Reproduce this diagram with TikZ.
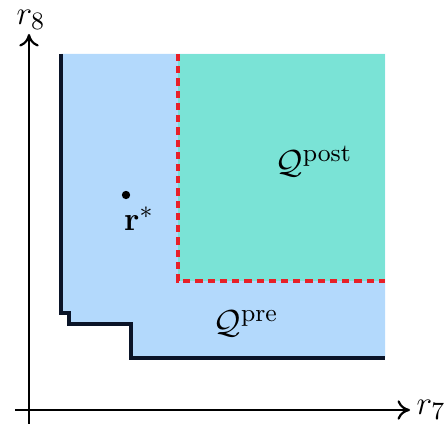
\documentclass[tikz,border=0pt]{standalone}
\usepackage{amsmath,amssymb}
\usetikzlibrary{arrows.meta}
\definecolor{preblue}{RGB}{179,217,252}
\definecolor{postgreen}{RGB}{122,227,214}
\definecolor{dashred}{RGB}{232,32,40}
\definecolor{edgeblue}{RGB}{10,20,40}
\tikzset{
  axis/.style={line width=0.8pt,-{To[length=4.5pt,width=7pt]}},
  stair/.style={line width=1.1pt,edgeblue,line join=miter},
  bound/.style={line width=1.1pt,dashred,dash pattern=on 2.6pt off 1.8pt},
  lbl/.style={inner sep=0pt,font=\fontsize{13}{15}\selectfont}
}
\begin{document}
\begin{tikzpicture}[x=0.36pt,y=-0.36pt]
\useasboundingbox (0,0) rectangle (445,428);
% regions
\fill[preblue] (61,54) -- (385,54) -- (385,358) -- (131,358) -- (131,324) -- (69,324) -- (69,313) -- (61,313) -- cycle;
\fill[postgreen] (178,54) rectangle (385,281);
% staircase boundary
\draw[stair] (61,54) -- (61,313) -- (69,313) -- (69,324) -- (131,324) -- (131,358) -- (385,358);
% dashed boundary
\draw[bound] (178,54) -- (178,281) -- (385,281);
% axes
\coordinate (o) at (29,410);
\coordinate (xs) at (15,410);
\coordinate (ys) at (29,424);
\coordinate (xe) at (410,410);
\coordinate (ye) at (29,34);
\draw[axis] (xs) -- (xe);
\draw[axis] (ys) -- (ye);
\node[lbl,anchor=west] (r7) at (416,410) {$r_7$};
\node[lbl] (r8) at (31,20) {$r_8$};
% point
\fill (126,195) circle (1.5pt);
\node[lbl] (rstar) at (139,219) {$\mathbf{r}^*$};
\node[lbl] (qpost) at (314,161) {$\mathcal{Q}^{\mathrm{post}}$};
\node[lbl] (qpre) at (246,324) {$\mathcal{Q}^{\mathrm{pre}}$};
\end{tikzpicture}
\end{document}
